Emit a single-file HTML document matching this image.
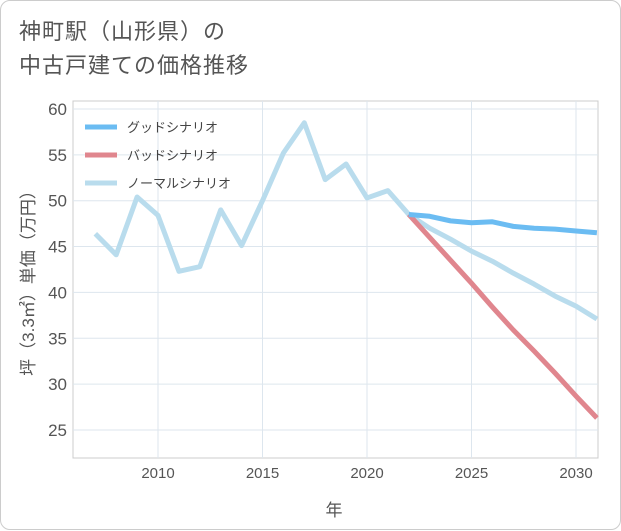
<!DOCTYPE html>
<html><head><meta charset="utf-8">
<style>
body{margin:0;background:#fff;font-family:"Liberation Sans","Noto Sans CJK JP",sans-serif;}
#card{position:absolute;left:0;top:0;width:619px;height:528px;border:1px solid #ccc;border-radius:10px;background:#fff;}
#title{position:absolute;left:18px;top:14px;font-size:22px;line-height:34px;color:#555;letter-spacing:1px;}
</style></head><body>
<div id="card">
<div id="title">神町駅（山形県）の<br>中古戸建ての価格推移</div>
<svg id="chart" width="621" height="530" style="position:absolute;left:0;top:0"></svg>
</div>
<script>
const years=[2007,2008,2009,2010,2011,2012,2013,2014,2015,2016,2017,2018,2019,2020,2021,2022,2023,2024,2025,2026,2027,2028,2029,2030,2031];
const normalVals=[46.4,44.1,50.4,48.4,42.3,42.8,49.0,45.1,50.0,55.2,58.5,52.3,54.0,50.3,51.1,48.5,47.0,45.8,44.5,43.4,42.1,40.9,39.6,38.5,37.1];
const goodYears=[2022,2023,2024,2025,2026,2027,2028,2029,2030,2031];
const goodVals=[48.5,48.3,47.8,47.6,47.7,47.2,47.0,46.9,46.7,46.5];
const badYears=[2022,2023,2024,2025,2026,2027,2028,2029,2030,2031];
const badVals=[48.5,46.0,43.5,41.0,38.4,35.9,33.6,31.2,28.7,26.3];
const xTicks=[2010,2015,2020,2025,2030];
const yTicks=[25,30,35,40,45,50,55,60];
const legendLabels=["グッドシナリオ","バッドシナリオ","ノーマルシナリオ"];
const legendColors=["#6bbcf2","#e0868e","#b9dced"];

const L=72,R=597,T=100,B=457;
const x=y=>157+(y-2010)*20.9;
const yS=v=>108+(60-v)*9.17;
const svg=document.getElementById('chart');
const NS='http://www.w3.org/2000/svg';
function mk(tag,attrs,parent){const e=document.createElementNS(NS,tag);for(const k in attrs)e.setAttribute(k,attrs[k]);(parent||svg).appendChild(e);return e;}

const bg=mk('rect',{x:L,y:T,width:R-L,height:B-T,fill:'#fff',stroke:'#ccc'});


for(const t of xTicks){
  const g=mk('line',{x1:x(t),x2:x(t),y1:T,y2:B,stroke:'#dde6ee'});
  
  
  const tx=mk('text',{x:x(t),y:B+20,'text-anchor':'middle','font-size':15,fill:'#555'});
  tx.textContent=t;
  
  
}
for(const t of yTicks){
  const g=mk('line',{x1:L,x2:R,y1:yS(t),y2:yS(t),stroke:'#dde6ee'});
  
  
  const tx=mk('text',{x:L-6,y:yS(t)+6,'text-anchor':'end','font-size':17,fill:'#555'});
  tx.textContent=t;
  
  
}
function line(xs,vs,color,name){
  const p=mk('polyline',{points:xs.map((yr,i)=>x(yr)+','+yS(vs[i])).join(' '),fill:'none',stroke:color,'stroke-width':5,'stroke-linejoin':'round'});
  
  
}
const clip=mk('clipPath',{id:'cp'});mk('rect',{x:L,y:T,width:R-L,height:B-T},clip);
line(years,normalVals,legendColors[2],'normal-scenario-line');
line(badYears,badVals,legendColors[1],'bad-scenario-line');
line(goodYears,goodVals,legendColors[0],'good-scenario-line');
legendLabels.forEach((lb,i)=>{
  const yy=126+i*28;
  const l=mk('line',{x1:84,x2:116,y1:yy,y2:yy,stroke:legendColors[i],'stroke-width':5});
  
  
  const t=mk('text',{x:126,y:yy+5,'font-size':13,fill:'#444'});
  t.textContent=lb;
  
  
});
const xt=mk('text',{x:333,y:515,'text-anchor':'middle','font-size':17,fill:'#555'});
xt.textContent='年';


const yt=mk('text',{x:0,y:0,'text-anchor':'middle','font-size':17,fill:'#555',transform:'translate(33,278) rotate(-90)'});
yt.textContent='坪（3.3㎡）単価（万円）';


</script>
</body></html>
